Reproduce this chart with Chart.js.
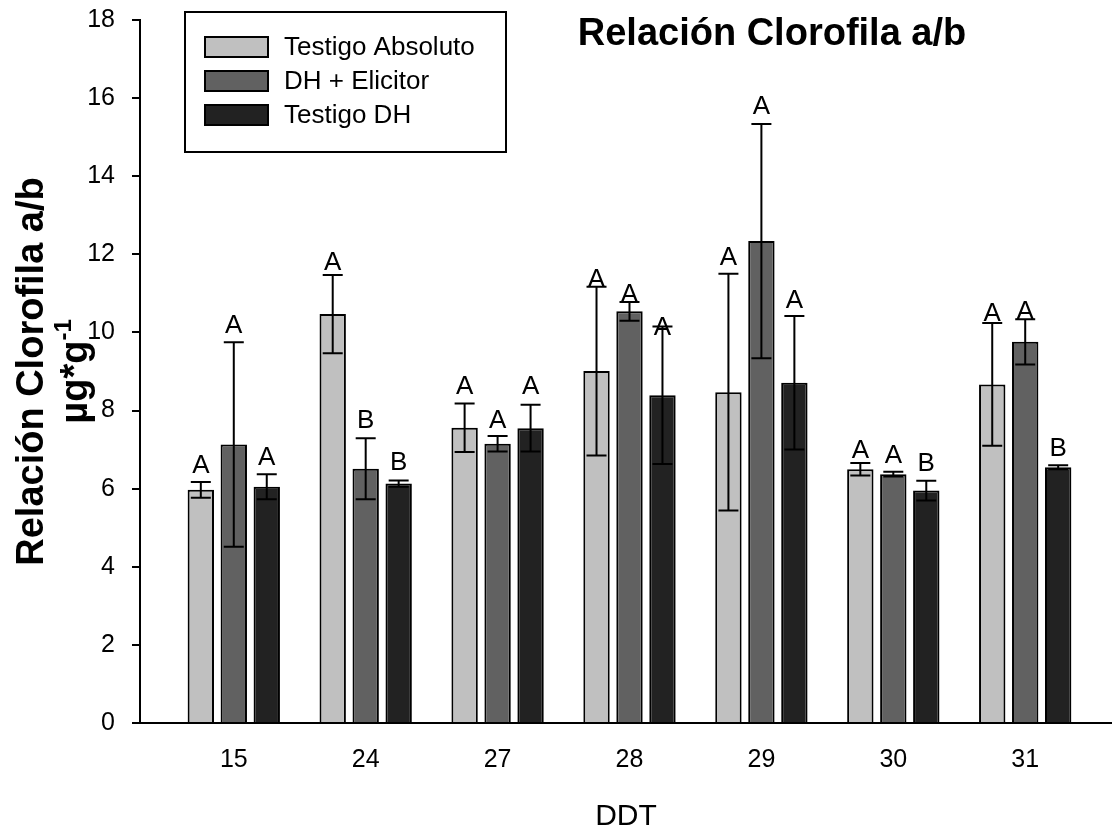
<!DOCTYPE html>
<html>
<head>
<meta charset="utf-8">
<script src="https://cdn.jsdelivr.net/npm/chart.js@4.4.1/dist/chart.umd.min.js"></script>
<style>
  html, body { margin: 0; padding: 0; background: #ffffff; }
  #wrap { width: 1112px; height: 829px; }
</style>
</head>
<body>
<div id="wrap"><canvas id="c" width="1112" height="829"></canvas></div>
<script>
// Días después del trasplante (categorías)
const ddt = ['15', '24', '27', '28', '29', '30', '31'];
const seriesNames = ['Testigo Absoluto', 'DH + Elicitor', 'Testigo DH'];

// Medias de la relación clorofila a/b
const testigoAbsoluto = [5.97, 10.47, 7.56, 9.01, 8.47, 6.50, 8.67];
const dhElicitor      = [7.13, 6.51, 7.15, 10.54, 12.34, 6.37, 9.76];
const testigoDH       = [6.05, 6.13, 7.55, 8.39, 8.71, 5.95, 6.55];

// Error (±) de cada media
const errAbsoluto = [0.20, 1.00, 0.62, 2.16, 3.03, 0.16, 1.57];
const errElicitor = [2.62, 0.78, 0.20, 0.24, 3.00, 0.06, 0.58];
const errDH       = [0.32, 0.08, 0.60, 1.76, 1.71, 0.25, 0.05];

// Letras de significancia
const letrasAbsoluto = ['A', 'A', 'A', 'A', 'A', 'A', 'A'];
const letrasElicitor = ['A', 'B', 'A', 'A', 'A', 'A', 'A'];
const letrasDH       = ['A', 'B', 'A', 'A', 'A', 'B', 'B'];

const yTicks = [0, 2, 4, 6, 8, 10, 12, 14, 16, 18];

// ---- estilo ----
const FONT = '"Liberation Sans", Arial, Helvetica, sans-serif';
const fills = ['#c0c0c0', '#616161', '#222222'];
// separación (px) entre cada letra y el extremo de su barra de error
const letterLift = [
  [9, 5, 10, 0, 9, 5, 2],
  [9, 10, 8, 0, 10, 9, 0],
  [9, 10, 11, -8, 8, 10, 9]
];

const means = [testigoAbsoluto, dhElicitor, testigoDH];
const errs = [errAbsoluto, errElicitor, errDH];
const letters = [letrasAbsoluto, letrasElicitor, letrasDH];

const datasets = means.map((vals, s) => ({
  label: seriesNames[s],
  data: vals.map((v, i) => ({ x: i, y: v })),
  backgroundColor: fills[s],
  borderColor: '#000000',
  borderWidth: 2,
  categoryPercentage: 0.75,
  barPercentage: 0.8
}));

const errorBars = {
  id: 'errorBars',
  afterDatasetsDraw(chart) {
    const ctx = chart.ctx;
    const y = chart.scales.y;
    ctx.save();
    ctx.strokeStyle = '#000';
    ctx.lineWidth = 2;
    ctx.fillStyle = '#000';
    ctx.font = '26px ' + FONT;
    ctx.textAlign = 'center';
    ctx.textBaseline = 'alphabetic';
    means.forEach((vals, s) => {
      const meta = chart.getDatasetMeta(s);
      meta.data.forEach((bar, i) => {
        const x = bar.x;
        const top = y.getPixelForValue(vals[i] + errs[s][i]);
        const bot = y.getPixelForValue(vals[i] - errs[s][i]);
        ctx.beginPath();
        ctx.moveTo(x, top); ctx.lineTo(x, bot);
        ctx.moveTo(x - 10, top); ctx.lineTo(x + 10, top);
        ctx.moveTo(x - 10, bot); ctx.lineTo(x + 10, bot);
        ctx.stroke();
        ctx.fillText(letters[s][i], x, top - letterLift[s][i]);
      });
    });
    ctx.restore();
  }
};

const decorations = {
  id: 'decorations',
  afterDraw(chart) {
    const ctx = chart.ctx;
    const area = chart.chartArea;
    ctx.save();
    ctx.fillStyle = '#000';

    // título
    ctx.font = 'bold 38px ' + FONT;
    ctx.textAlign = 'center';
    ctx.textBaseline = 'alphabetic';
    ctx.fillText('Relación Clorofila a/b', 772, 45);

    // título eje X
    ctx.font = '30px ' + FONT;
    ctx.fillText('DDT', (area.left + area.right) / 2, 825);

    // título eje Y (dos líneas, con superíndice)
    const cy = (area.top + area.bottom) / 2;
    ctx.save();
    ctx.translate(43, cy);
    ctx.rotate(-Math.PI / 2);
    ctx.font = 'bold 38px ' + FONT;
    ctx.textAlign = 'center';
    ctx.fillText('Relación Clorofila a/b', 0, 0);
    ctx.restore();

    ctx.save();
    ctx.translate(87, cy);
    ctx.rotate(-Math.PI / 2);
    ctx.textAlign = 'left';
    ctx.font = 'bold 38px ' + FONT;
    const base = 'µg*g';
    const wBase = ctx.measureText(base).width;
    ctx.font = 'bold 24px ' + FONT;
    const sup = '-1';
    const wSup = ctx.measureText(sup).width;
    const start = -(wBase + wSup) / 2;
    ctx.font = 'bold 38px ' + FONT;
    ctx.fillText(base, start, 0);
    ctx.font = 'bold 24px ' + FONT;
    ctx.fillText(sup, start + wBase, -16);
    ctx.restore();

    // leyenda
    ctx.lineWidth = 2;
    ctx.strokeStyle = '#000';
    ctx.strokeRect(185, 12, 321, 140);
    const rows = [47, 81, 115];
    ctx.font = '26px ' + FONT;
    ctx.textAlign = 'left';
    ctx.textBaseline = 'middle';
    chart.data.datasets.forEach((ds, s) => {
      const ry = rows[s];
      ctx.fillStyle = ds.backgroundColor;
      ctx.fillRect(205, ry - 10, 63, 20);
      ctx.strokeRect(205, ry - 10, 63, 20);
      ctx.fillStyle = '#000';
      ctx.fillText(ds.label, 284, ry + 1);
    });
    ctx.restore();
  }
};

new Chart(document.getElementById('c'), {
  type: 'bar',
  data: { datasets },
  options: {
    responsive: false,
    animation: false,
    devicePixelRatio: 1,
    layout: { padding: { top: 20, right: 0, bottom: 0, left: 0 } },
    plugins: {
      legend: { display: false },
      tooltip: { enabled: false },
      title: { display: false }
    },
    scales: {
      x: {
        type: 'linear',
        offset: false,
        min: -0.711,
        max: 6.658,
        z: 1,
        grid: { display: false, drawTicks: false, offset: false },
        border: { display: true, color: '#000', width: 2 },
        afterBuildTicks(scale) { scale.ticks = ddt.map((_, i) => ({ value: i })); },
        afterFit(scale) { scale.height = 106; scale.paddingLeft = 0; scale.paddingRight = 0; },
        ticks: {
          color: '#000',
          font: { family: FONT, size: 25 },
          padding: 22,
          maxRotation: 0,
          autoSkip: false,
          callback: (v) => ddt[v] !== undefined ? ddt[v] : ''
        }
      },
      y: {
        min: 0,
        max: 18,
        afterBuildTicks(scale) { scale.ticks = yTicks.map(v => ({ value: v })); },
        afterFit(scale) { scale.width = 140; scale.paddingTop = 0; scale.paddingBottom = 0; },
        grid: { drawOnChartArea: false, drawTicks: true, tickLength: 8, color: '#000', lineWidth: 2 },
        border: { display: true, color: '#000', width: 2 },
        ticks: {
          color: '#000',
          font: { family: FONT, size: 25 },
          padding: 17
        }
      }
    }
  },
  plugins: [errorBars, decorations]
});
</script>
</body>
</html>
